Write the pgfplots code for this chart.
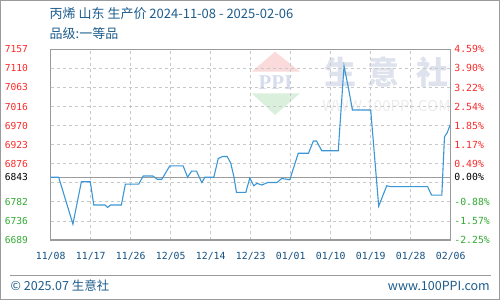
\documentclass[border=0pt]{standalone}
\usepackage{fontspec}
\usepackage{pgfplots}
\pgfplotsset{compat=1.18}
\setmainfont{Noto Sans CJK SC}
\newfontfamily\cjk{Noto Sans CJK SC}
\newfontfamily\mono{DejaVu Sans Mono}
\newfontfamily\serifb{Liberation Serif}
\definecolor{tblue}{RGB}{28,92,140}
\definecolor{xblue}{RGB}{20,80,128}
\definecolor{tred}{RGB}{250,40,40}
\definecolor{tgreen}{RGB}{50,170,50}
\definecolor{lineblue}{RGB}{58,150,212}
\definecolor{framegray}{RGB}{155,155,155}
\definecolor{gridgray}{RGB}{200,200,200}
\definecolor{wmtext}{RGB}{222,226,236}
\definecolor{wmurl}{RGB}{236,236,236}
\definecolor{wmred}{RGB}{250,218,218}
\definecolor{wmgreen}{RGB}{218,240,220}
\definecolor{wmppi}{RGB}{212,220,238}
\pgfplotsset{
 common/.style={
  at={(50.7pt,60pt)}, anchor=south west,
  scale only axis, width=400pt, height=190.7pt,
  xmin=0, xmax=90, ymin=6689, ymax=7157,
  tick style={draw=none},
  ytick={6689,6735.8,6782.6,6829.4,6876.2,6923,6969.8,7016.6,7063.4,7110.2,7157},
 }
}
\begin{document}
\begin{tikzpicture}[x=1pt,y=1pt]
\useasboundingbox (0,0) rectangle (500,300);
\draw[color=framegray, line width=1pt] (0.5,0.5) rectangle (499.5,299.5);
% watermark
\fill[wmred] (275,248.3) -- (300,228.3) -- (251.7,228.3) -- cycle;
\fill[wmgreen] (251.7,206.7) -- (300,206.7) -- (275,185) -- cycle;
\node[text=wmppi, font=\serifb\bfseries\fontsize{21}{21}\selectfont, inner sep=0pt] at (275.5,217.5) {PPI};
\node[text=wmtext, font=\cjk\bfseries\fontsize{32}{32}\selectfont, inner sep=0pt] at (340,228.3) {生};
\node[text=wmtext, font=\cjk\bfseries\fontsize{32}{32}\selectfont, inner sep=0pt] at (383.5,228.3) {意};
\node[text=wmtext, font=\cjk\bfseries\fontsize{32}{32}\selectfont, inner sep=0pt] at (432,228.3) {社};
\node[text=wmurl, font=\cjk\fontsize{15}{15}\selectfont, inner sep=0pt] at (386.5,194) {WWW.100PPI.COM};
% titles
\node[anchor=west, text=tblue, font=\cjk\fontsize{13}{13}\selectfont, inner sep=0pt] at (49.5,286) {丙烯 山东 生产价 2024-11-08 - 2025-02-06};
\node[anchor=west, text=tblue, font=\cjk\fontsize{13}{13}\selectfont, inner sep=0pt] at (49.5,266) {品级:一等品};
\begin{axis}[common,
  grid=major, major grid style={dashed, color=gridgray, line width=0.8pt},
  axis line style={color=framegray, line width=1.1pt},
  xtick={0,9,18,27,36,45,54,63,72,81,90},
  xticklabels={11/08,11/17,11/26,12/05,12/14,12/23,01/01,01/10,01/19,01/28,02/06},
  xticklabel style={font=\mono\fontsize{9.8}{10}\selectfont, text=xblue, inner sep=0pt, anchor=center, yshift=-16.5pt},
  yticklabels={{\color{tgreen}6689},{\color{tgreen}6736},{\color{tgreen}6782},{},{\color{tred}6876},{\color{tred}6923},{\color{tred}6970},{\color{tred}7016},{\color{tred}7063},{\color{tred}7110},{\color{tred}7157}},
  yticklabel style={font=\mono\fontsize{9.6}{10}\selectfont, inner sep=0pt, anchor=east, xshift=-22.5pt},
  extra y ticks={6843},
  extra y tick labels={{\color{black}6843}},
  extra y tick style={grid=major, major grid style={solid, color=framegray, line width=1.1pt}},
]
\addplot[color=lineblue, line width=1.1pt, mark=none] coordinates {
(0,6843)(1.8,6843)(5,6728)(6.9,6832)(8.9,6832)(9.7,6775)(12.2,6775)(12.8,6769)(13.5,6775)(15.9,6775)
(16.8,6826)(19.8,6826)(20.8,6846)(23,6846)(24,6838)(25,6838)(26.8,6871)(29.8,6871)(30.8,6843)(31.7,6858)
(32.8,6858)(34,6830)(34.7,6843)(36.7,6843)(37.7,6889)(38.7,6894)(39.7,6894)(40.5,6878)(41.2,6845)(41.8,6806)
(43.9,6806)(44.8,6841)(45.7,6822)(46.4,6828)(47.5,6824)(48.8,6830)(50.9,6830)(52,6840)(53.8,6837)(55.7,6902)
(58,6902)(59.1,6932)(59.8,6932)(61,6908)(64.7,6908)(66,7116)(67,7061)(67.9,7008)(72,7008)(73.8,6772)
(75.6,6822)(76.5,6820)(84.8,6820)(85.7,6799)(88,6799)(88.6,6942)(89.2,6952)(90,6975)};
\end{axis}
\begin{axis}[common,
  axis x line=none, axis y line*=right,
  axis line style={color=framegray, line width=1.1pt},
  yticklabels={{\color{tgreen}-2.25\%},{\color{tgreen}-1.57\%},{\color{tgreen}-0.88\%},{},{\color{tred}0.49\%},{\color{tred}1.17\%},{\color{tred}1.85\%},{\color{tred}2.54\%},{\color{tred}3.22\%},{\color{tred}3.90\%},{\color{tred}4.59\%}},
  yticklabel style={font=\mono\fontsize{9.8}{10}\selectfont, inner sep=0pt, anchor=west, xshift=3.5pt},
  extra y ticks={6843},
  extra y tick labels={{\color{black}0.00\%}},
]
\end{axis}
% footer
\draw[color=framegray, line width=0.8pt] (10,25) -- (491,25);
\node[anchor=west, text=tblue, font=\cjk\fontsize{12.5}{13}\selectfont, inner sep=0pt] at (10.5,14.5) {© 2025.07 生意社};
\node[anchor=east, text=tblue, font=\cjk\fontsize{12.5}{13}\selectfont, inner sep=0pt] at (490,14.5) {www.100PPI.com};
\end{tikzpicture}
\end{document}
